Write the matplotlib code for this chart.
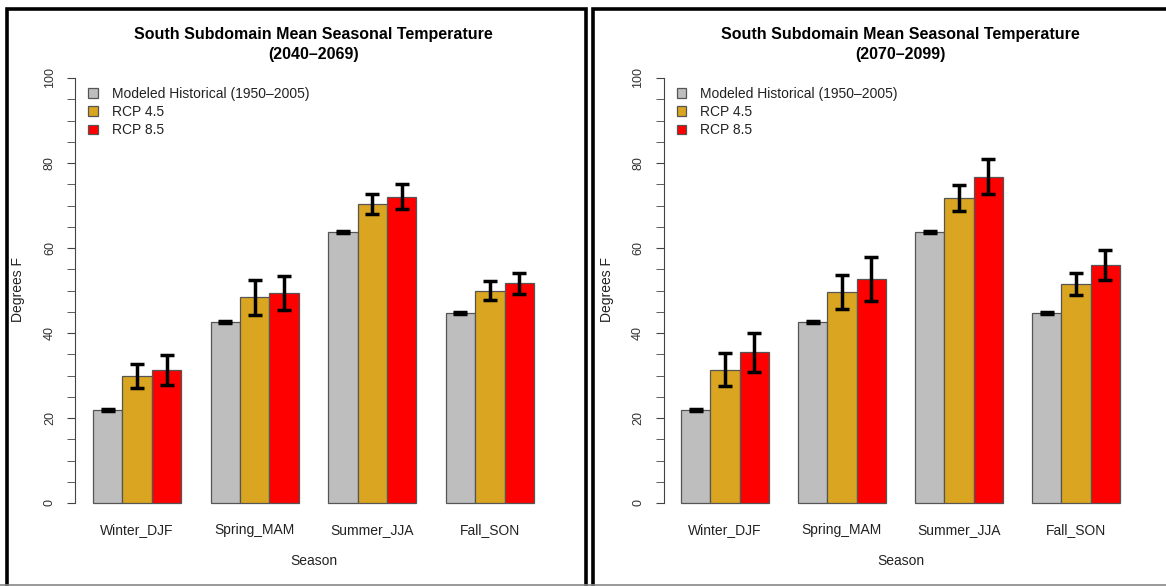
import matplotlib
matplotlib.use('Agg')
import matplotlib.pyplot as plt
from matplotlib.patches import Patch, Rectangle
from matplotlib.lines import Line2D

plt.rcParams['font.family'] = ['Liberation Sans', 'DejaVu Sans']

W, H = 1166, 586

seasons = ['Winter_DJF', 'Spring_MAM', 'Summer_JJA', 'Fall_SON']
series_names = ['Modeled Historical (1950\u20132005)', 'RCP 4.5', 'RCP 8.5']
colors = ['#bebebe', '#daa520', '#ff0000']

hist = [21.9, 42.6, 63.8, 44.7]
hist_err = [0.3, 0.3, 0.3, 0.3]

# 2040-2069
rcp45_mid = [29.9, 48.4, 70.3, 50.0]
rcp45_mid_err = [2.85, 4.1, 2.35, 2.25]
rcp85_mid = [31.3, 49.4, 72.1, 51.7]
rcp85_mid_err = [3.45, 4.0, 2.9, 2.5]

# 2070-2099
rcp45_late = [31.4, 49.6, 71.8, 51.5]
rcp45_late_err = [3.85, 3.95, 3.0, 2.65]
rcp85_late = [35.5, 52.7, 76.8, 56.0]
rcp85_late_err = [4.6, 5.15, 4.1, 3.5]


def fig_rect(left, right, top, bottom):
    return [left / W, 1 - bottom / H, (right - left) / W, (bottom - top) / H]


def draw_panel(fig, left, right, period, values, errors):
    top, bottom = 61, 520
    ax = fig.add_axes(fig_rect(left, right, top, bottom))
    for j, (vals, errs) in enumerate(zip(values, errors)):
        xs = [1 + 4 * g + j for g in range(len(seasons))]
        ax.bar(xs, vals, width=1, align='edge', color=colors[j],
               edgecolor='#555555', linewidth=0.9, zorder=2)
        ax.errorbar([x + 0.5 for x in xs], vals, yerr=errs, fmt='none',
                    ecolor='black', elinewidth=2.5, capsize=5, capthick=2.5, zorder=3)

    ax.set_xlim(0.4, 16.6)
    ax.set_ylim(-4, 104)
    for s in ['top', 'right', 'bottom']:
        ax.spines[s].set_visible(False)
    ax.spines['left'].set_bounds(0, 100)
    ax.spines['left'].set_color('#444444')
    ax.set_yticks(range(0, 101, 20))
    ax.set_yticks(range(0, 101, 5), minor=True)
    ax.set_yticklabels([str(v) for v in range(0, 101, 20)], rotation=90, va='center')
    ax.tick_params(axis='y', which='both', length=6, color='#444444',
                   labelsize=9, labelcolor='#333333', pad=8)
    ax.set_xticks([2.5 + 4 * g for g in range(len(seasons))])
    ax.set_xticklabels(seasons)
    ax.tick_params(axis='x', length=0, labelsize=10, labelcolor='#222222', pad=2)

    handles = [Patch(facecolor=c, edgecolor='#555555', linewidth=0.9) for c in colors]
    leg = ax.legend(handles, series_names, loc='upper left', frameon=False,
                    bbox_to_anchor=((left + 13) / W, 1 - 87 / H),
                    bbox_transform=fig.transFigure, borderpad=0, borderaxespad=0,
                    handlelength=0.7, handleheight=0.7, handletextpad=1.0,
                    labelspacing=0.3, fontsize=10)
    for t in leg.get_texts():
        t.set_color('#222222')

    cx = (left + right) / 2 / W
    fig.text(cx, 1 - 35 / H, 'South Subdomain Mean Seasonal Temperature',
             ha='center', va='center', fontsize=11.5, fontweight='bold')
    fig.text(cx, 1 - 55 / H, period, ha='center', va='center',
             fontsize=11.5, fontweight='bold')
    fig.text(cx, 1 - 561 / H, 'Season', ha='center', va='center',
             fontsize=10, color='#222222')
    fig.text((left - 57) / W, 1 - 290 / H, 'Degrees F', ha='center', va='center',
             rotation=90, fontsize=10, color='#222222')
    return ax


fig = plt.figure(figsize=(W / 100, H / 100), dpi=100)

draw_panel(fig, 75.4, 551.6, '(2040\u20132069)',
           [hist, rcp45_mid, rcp85_mid], [hist_err, rcp45_mid_err, rcp85_mid_err])
draw_panel(fig, 663.5, 1137.3, '(2070\u20132099)',
           [hist, rcp45_late, rcp85_late], [hist_err, rcp45_late_err, rcp85_late_err])

# panel frames
fig.patches.append(Rectangle((7 / W, 1 - 600 / H), 579 / W, 591 / H, fill=False,
                             edgecolor='black', linewidth=2.6, transform=fig.transFigure))
fig.patches.append(Rectangle((593 / W, 1 - 600 / H), 600 / W, 591 / H, fill=False,
                             edgecolor='black', linewidth=2.6, transform=fig.transFigure))
fig.lines.append(Line2D([0, 1], [1 - 584.5 / H, 1 - 584.5 / H], color='#888888',
                        linewidth=1.2, transform=fig.transFigure))

fig.savefig('out.png', dpi=100)
